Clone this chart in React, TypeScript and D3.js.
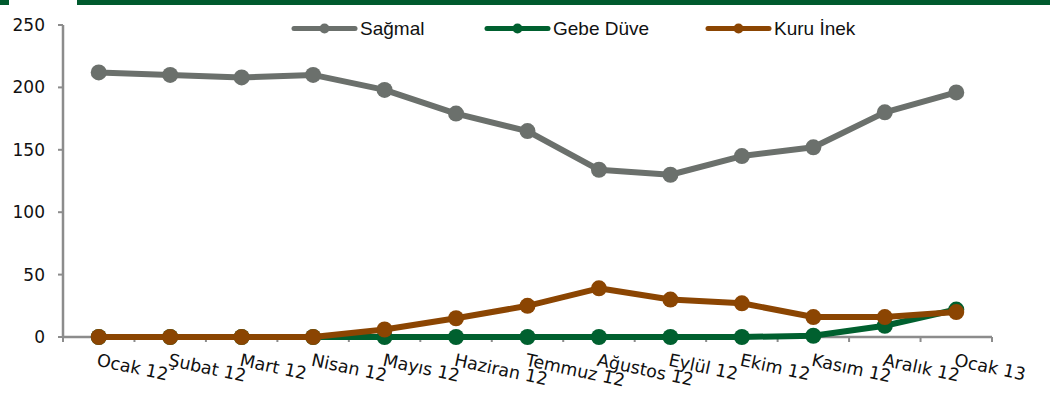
import React from "react";
import * as d3 from "d3";

const categories = ["Ocak 12", "Şubat 12", "Mart 12", "Nisan 12", "Mayıs 12", "Haziran 12", "Temmuz 12", "Ağustos 12", "Eylül 12", "Ekim 12", "Kasım 12", "Aralık 12", "Ocak 13"];
const sagmal = [212, 210, 208, 210, 198, 179, 165, 134, 130, 145, 152, 180, 196];
const gebeDuve = [0, 0, 0, 0, 0, 0, 0, 0, 0, 0, 1, 9, 22];
const kuruInek = [0, 0, 0, 0, 6, 15, 25, 39, 30, 27, 16, 16, 20];
const yTicks = [0, 50, 100, 150, 200, 250];

const series = [
  { name: "Sağmal", values: sagmal, color: "#6b706c" },
  { name: "Gebe Düve", values: gebeDuve, color: "#00602f" },
  { name: "Kuru İnek", values: kuruInek, color: "#8b4502" },
];

const W = 1050, H = 401;
const left = 63, right = 992, top = 25, bottom = 337;
const font = "'DejaVu Sans', Verdana, sans-serif";
const legendFont = "'Liberation Sans', Arial, sans-serif";
const axisColor = "#8c8c8c";

export default function App() {
  const x = d3.scaleBand<string>().domain(categories).range([left, right]).padding(0);
  const y = d3.scaleLinear().domain([0, 250]).range([bottom, top]);
  const cx = (c: string) => (x(c) as number) + x.bandwidth() / 2;
  const line = d3.line<number>().x((_, i) => cx(categories[i])).y((v) => y(v));
  const boundaries = d3.range(categories.length + 1).map((i) => left + i * x.bandwidth());
  const legendX = [294, 487, 708];
  const legendLen = 61;

  return (
    <svg width={W} height={H} style={{ position: "absolute", left: 0, top: 0 }}>
      <rect x={0} y={0} width={W} height={H} fill="#fff" />
      <rect x={0} y={0} width={9} height={5} fill="#005a2e" />
      <rect x={77} y={0} width={W - 77} height={5} fill="#005a2e" />

      {/* y axis */}
      <line x1={left} x2={left} y1={top} y2={bottom} stroke={axisColor} strokeWidth={2.5} />
      {yTicks.map((t) => (
        <g key={t}>
          <line x1={left - 5} x2={left} y1={y(t)} y2={y(t)} stroke={axisColor} strokeWidth={2} />
          <text x={left - 18} y={y(t)} dy="0.35em" textAnchor="end" fontFamily={font} fontSize={17} fill="#111">{t}</text>
        </g>
      ))}

      {/* x axis */}
      <line x1={left} x2={right} y1={bottom} y2={bottom} stroke={axisColor} strokeWidth={2.5} />
      {boundaries.map((b, i) => (
        <line key={i} x1={b} x2={b} y1={bottom} y2={bottom + 5} stroke={axisColor} strokeWidth={2} />
      ))}
      {categories.map((c) => (
        <text key={c} transform={`translate(${cx(c)},${bottom + 16}) rotate(12)`} dominantBaseline="hanging" fontFamily={font} fontSize={17.5} fill="#111">{c}</text>
      ))}

      {/* series */}
      {series.map((s) => (
        <g key={s.name}>
          <path d={line(s.values) as string} fill="none" stroke={s.color} strokeWidth={6} strokeLinejoin="round" />
          {s.values.map((v, i) => (
            <circle key={i} cx={cx(categories[i])} cy={y(v)} r={8} fill={s.color} />
          ))}
        </g>
      ))}

      {/* legend */}
      {series.map((s, i) => (
        <g key={s.name}>
          <line x1={legendX[i]} x2={legendX[i] + legendLen} y1={28.5} y2={28.5} stroke={s.color} strokeWidth={5} strokeLinecap="round" />
          <circle cx={legendX[i] + legendLen / 2} cy={28.5} r={5} fill={s.color} />
          <text x={legendX[i] + legendLen + 5} y={35} fontFamily={legendFont} fontSize={19} fill="#111">{s.name}</text>
        </g>
      ))}
    </svg>
  );
}
